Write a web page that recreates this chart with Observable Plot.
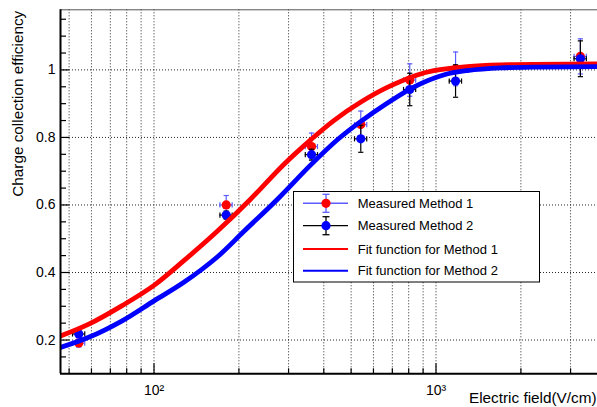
<!DOCTYPE html>
<html><head><meta charset="utf-8">
<script src="https://cdn.jsdelivr.net/npm/d3@7"></script>
<script src="https://cdn.jsdelivr.net/npm/@observablehq/plot@0.6"></script>
<style>
html,body{margin:0;padding:0;background:#fff;}
#chart{position:relative;width:597px;height:407px;overflow:hidden;}
</style></head><body><div id="chart"></div>
<script>
// ---- data ----
const fieldX = [54.1, 180.3, 361.9, 541, 807, 1173, 3250];
const fieldXErr = [2.7, 9, 18, 27, 40, 59, 163];
const method1Y = [0.191, 0.600, 0.773, 0.838, 0.970, 1.003, 1.040];
const method1Err = [0.012, 0.028, 0.040, 0.040, 0.048, 0.050, 0.052];
const method2Y = [0.218, 0.570, 0.749, 0.796, 0.942, 0.967, 1.033];
const method2Err = [0.010, 0.012, 0.016, 0.040, 0.048, 0.048, 0.053];

const fit1X = [46.6, 58.7, 77.1, 100, 127.6, 167.6, 219.9, 288.6, 361.9, 434.1, 539.9, 671.4, 857.8, 982.2, 1290, 1693, 3738];
const fit1Y = [0.212, 0.247, 0.302, 0.362, 0.435, 0.522, 0.617, 0.720, 0.795, 0.850, 0.904, 0.948, 0.985, 0.998, 1.010, 1.015, 1.018];
const fit2X = [46.6, 58.7, 77.1, 100, 127.6, 167.6, 208.5, 274.1, 358.9, 451.1, 540, 672.9, 836.9, 1063, 1290, 1693, 3738];
const fit2Y = [0.178, 0.208, 0.257, 0.316, 0.371, 0.446, 0.522, 0.617, 0.718, 0.796, 0.847, 0.902, 0.950, 0.985, 0.998, 1.006, 1.010];

const xDomain = [46.6, 3738];
const yDomain = [0.1, 1.178];
const xGridTicks = [50, 60, 70, 80, 90, 100, 200, 300, 400, 500, 600, 700, 800, 900, 1000, 2000, 3000];
const xMajorTicks = [100, 1000];
const xMajorLabels = ["10²", "10³"];
const xMinorTicks = [50, 60, 70, 80, 90, 200, 300, 400, 500, 600, 700, 800, 900, 2000, 3000];
const yMajorTicks = [0.2, 0.4, 0.6, 0.8, 1];
const yMajorLabels = ["0.2", "0.4", "0.6", "0.8", "1"];
const yMinorTicks = [0.15, 0.25, 0.3, 0.35, 0.45, 0.5, 0.55, 0.65, 0.7, 0.75, 0.85, 0.9, 0.95, 1.05, 1.1, 1.15];

const legendLabels = ["Measured Method 1", "Measured Method 2", "Fit function for Method 1", "Fit function for Method 2"];
const xTitle = "Electric field(V/cm)";
const yTitle = "Charge collection efficiency";

// ---- build tables ----
const m1 = fieldX.map((x, i) => ({x, xlo: x - fieldXErr[i], xhi: x + fieldXErr[i], y: method1Y[i], ylo: method1Y[i] - method1Err[i], yhi: method1Y[i] + method1Err[i]}));
const m2 = fieldX.map((x, i) => ({x, xlo: x - fieldXErr[i], xhi: x + fieldXErr[i], y: method2Y[i], ylo: method2Y[i] - method2Err[i], yhi: method2Y[i] + method2Err[i]}));
const fit1 = fit1X.map((x, i) => ({x, y: fit1Y[i]}));
const fit2 = fit2X.map((x, i) => ({x, y: fit2Y[i]}));

const RED = "#ff0000", BLUE = "#0000ff", ERR1 = "#5c5cff", ERR2 = "#000000";
const capH = {draw(ctx, size) { const r = Math.sqrt(size / Math.PI); ctx.moveTo(-r, 0); ctx.lineTo(r, 0); }};
const capV = {draw(ctx, size) { const r = Math.sqrt(size / Math.PI); ctx.moveTo(0, -r); ctx.lineTo(0, r); }};

function errMarks(data, color) {
  return [
    Plot.ruleX(data, {x: "x", y1: "ylo", y2: "yhi", stroke: color, strokeWidth: 1.2}),
    Plot.ruleY(data, {y: "y", x1: "xlo", x2: "xhi", stroke: color, strokeWidth: 1.2}),
    Plot.dot(data, {x: "x", y: "yhi", symbol: capH, r: 2.6, stroke: color, fill: "none", strokeWidth: 1.2}),
    Plot.dot(data, {x: "x", y: "ylo", symbol: capH, r: 2.6, stroke: color, fill: "none", strokeWidth: 1.2}),
    Plot.dot(data, {x: "xlo", y: "y", symbol: capV, r: 2.6, stroke: color, fill: "none", strokeWidth: 1.2}),
    Plot.dot(data, {x: "xhi", y: "y", symbol: capV, r: 2.6, stroke: color, fill: "none", strokeWidth: 1.2})
  ];
}

const chart = Plot.plot({
  width: 597,
  height: 407,
  marginLeft: 60,
  marginRight: 0,
  marginTop: 9.3,
  marginBottom: 33.7,
  style: {fontFamily: "'Liberation Sans', Arial, sans-serif", fontSize: "14px", background: "#fff", color: "#000"},
  x: {type: "log", domain: xDomain, axis: null},
  y: {domain: yDomain, axis: null},
  marks: [
    // grid
    Plot.ruleX(xGridTicks, {stroke: "#000", strokeWidth: 1, strokeDasharray: "1,2", strokeOpacity: 0.85}),
    Plot.ruleY(yMajorTicks, {stroke: "#000", strokeWidth: 1, strokeDasharray: "1,2", strokeOpacity: 0.85}),
    // measured points
    ...errMarks(m1, ERR1),
    Plot.dot(m1, {x: "x", y: "y", r: 4.6, fill: RED, stroke: "none"}),
    ...errMarks(m2, ERR2),
    Plot.dot(m2, {x: "x", y: "y", r: 4.6, fill: BLUE, stroke: "none"}),
    // fits
    Plot.line(fit1, {x: "x", y: "y", stroke: RED, strokeWidth: 4.8, curve: "catmull-rom", clip: true}),
    Plot.line(fit2, {x: "x", y: "y", stroke: BLUE, strokeWidth: 4.8, curve: "catmull-rom", clip: true}),
    // frame
    Plot.ruleY([yDomain[1]], {stroke: "#555", strokeWidth: 1}),
    Plot.ruleX([xDomain[0]], {stroke: "#000", strokeWidth: 2}),
    Plot.ruleY([yDomain[0]], {stroke: "#000", strokeWidth: 2}),
    // ticks (inside)
    Plot.axisX({ticks: xMajorTicks, tickSize: -10, tickFormat: () => "", label: null, strokeWidth: 1.2}),
    Plot.axisX({ticks: xMinorTicks, tickSize: -5, tickFormat: () => "", label: null, strokeWidth: 1.2}),
    Plot.axisY({ticks: yMajorTicks, tickSize: -9, tickFormat: () => "", label: null, strokeWidth: 1.2}),
    Plot.axisY({ticks: yMinorTicks, tickSize: -6, tickFormat: () => "", label: null, strokeWidth: 1.2}),
    // tick labels
    Plot.axisX({ticks: xMajorTicks, tickSize: 0, tickPadding: 11, label: null, fontSize: 14,
      tickFormat: d => xMajorLabels[xMajorTicks.indexOf(d)]}),
    Plot.axisY({ticks: yMajorTicks, tickSize: 0, tickPadding: 5, label: null, fontSize: 14,
      tickFormat: d => yMajorLabels[yMajorTicks.indexOf(d)]}),
    // titles
    Plot.text([xTitle], {text: d => d, frameAnchor: "bottom-right", textAnchor: "end", lineAnchor: "middle", dx: -1, dy: 24, fontSize: 15.3}),
    Plot.text([yTitle], {text: d => d, frameAnchor: "top-left", textAnchor: "end", lineAnchor: "middle", rotate: -90, dx: -42, dy: 1, fontSize: 15.3})
  ]
});

// ---- legend (decoration) ----
const svg = d3.select(chart);
const lg = svg.append("g").attr("font-family", "'Liberation Sans', Arial, sans-serif").attr("font-size", 13).attr("text-anchor", "start");
lg.append("rect").attr("x", 293.5).attr("y", 191.5).attr("width", 246).attr("height", 90.5)
  .attr("fill", "#ffffff").attr("stroke", "#000").attr("stroke-width", 1);
const rows = [203.3, 225.7, 249, 270.7];
const legendStyle = [
  {line: ERR1, marker: RED, err: ERR1, lw: 1.5},
  {line: ERR2, marker: BLUE, err: ERR2, lw: 1.2},
  {line: RED, marker: null, lw: 2},
  {line: BLUE, marker: null, lw: 2}
];
legendLabels.forEach((label, i) => {
  const y = rows[i], s = legendStyle[i];
  lg.append("line").attr("x1", 303).attr("x2", 348).attr("y1", y).attr("y2", y).attr("stroke", s.line).attr("stroke-width", s.lw);
  if (s.marker) {
    lg.append("line").attr("x1", 326).attr("x2", 326).attr("y1", y - 9).attr("y2", y + 9).attr("stroke", s.err).attr("stroke-width", 1.3);
    lg.append("line").attr("x1", 322.5).attr("x2", 329.5).attr("y1", y - 9).attr("y2", y - 9).attr("stroke", s.err).attr("stroke-width", 1.3);
    lg.append("line").attr("x1", 322.5).attr("x2", 329.5).attr("y1", y + 9).attr("y2", y + 9).attr("stroke", s.err).attr("stroke-width", 1.3);
    lg.append("circle").attr("cx", 326).attr("cy", y).attr("r", 4.6).attr("fill", s.marker);
  }
  lg.append("text").attr("x", 357.7).attr("y", y).attr("dy", "0.35em").attr("fill", "#000").attr("text-anchor", "start").text(label);
});

document.getElementById("chart").appendChild(chart);
</script>
</body></html>
